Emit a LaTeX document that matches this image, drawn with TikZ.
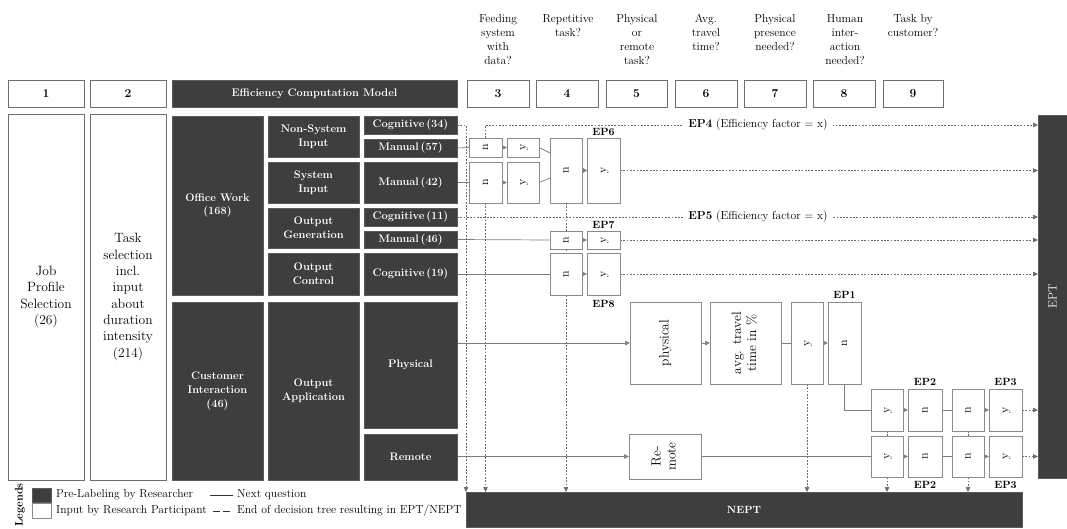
\documentclass[tikz,border=0pt]{standalone}
\usepackage{graphicx}
\usetikzlibrary{arrows.meta,calc}

\definecolor{dkc}{HTML}{3E3E3E}
\definecolor{bdc}{HTML}{8A8A8A}
\definecolor{hbc}{HTML}{6E6E6E}
\definecolor{lnc}{HTML}{7E7E7E}
\definecolor{dotc}{HTML}{6A6A6A}

\pgfdeclarelayer{bg}
\pgfsetlayers{bg,main}

% box from its corners: name, x1, y1, x2, y2, style, text
\newcommand\mkbox[7]{\node[#6, minimum width={(#4-#2)*1pt}, minimum height={(#5-#3)*1pt}] (#1) at ({(#2+#4)/2},{(#3+#5)/2}) {#7};}
% rotated (bottom-to-top) text, possibly on several lines
\newcommand\rot[1]{\rotatebox{90}{\begin{tabular}{@{}c@{}}#1\end{tabular}}}

\begin{document}
\begin{tikzpicture}[x=1pt,y=-1pt,
  dk/.style={draw=dkc!85!white, line width=0.4pt, fill=dkc, text=white, align=center,
    inner sep=0pt, outer sep=0pt, font=\bfseries\fontsize{11}{13.8}\selectfont},
  wb/.style={draw=bdc, line width=0.8pt, fill=white, align=center, inner sep=0pt, outer sep=0pt,
    font=\fontsize{12}{13}\selectfont},
  hd/.style={wb, draw=hbc, font=\bfseries\fontsize{12}{13}\selectfont},
  big/.style={wb, draw=hbc, font=\fontsize{13.5}{16.3}\selectfont},
  qt/.style={anchor=north, align=center, inner sep=0pt, font=\fontsize{11.6}{14}\selectfont},
  ep/.style={inner sep=0pt, font=\bfseries\fontsize{10.5}{12}\selectfont},
  lt/.style={anchor=west, inner sep=0pt, font=\fontsize{11.6}{13}\selectfont},
  sol/.style={draw=lnc, line width=0.7pt},
  dot/.style={draw=dotc, line width=0.6pt, dash pattern=on 1.8pt off 1.5pt},
  arr/.style={-{Triangle[length=5pt,width=4.5pt]}},
  barr/.style={-{Triangle[length=5pt,width=6pt]}}
]
\useasboundingbox (0,0) rectangle (1067,528);

% ---------- questions above the columns ----------
\node[qt] (q3) at (498,14) {Feeding\\system\\with\\data?};
\node[qt] (q4) at (568,14) {Repetitive\\task?};
\node[qt] (q5) at (637,14) {Physical\\or\\remote\\task?};
\node[qt] (q6) at (706,14) {Avg.\\travel\\time?};
\node[qt] (q7) at (775,14) {Physical\\presence\\needed?};
\node[qt] (q8) at (845,14) {Human\\inter-\\action\\needed?};
\node[qt] (q9) at (913,14) {Task by\\customer?};

% ---------- numbered header row ----------
\mkbox{h1}{8}{80}{84}{107}{hd}{1}
\mkbox{h2}{90}{80}{166}{107}{hd}{2}
\mkbox{ecm}{172}{80}{457}{107}{dk, font=\bfseries\fontsize{11}{13}\selectfont}{Efficiency Computation Model}
\mkbox{h3}{467}{80}{529}{107}{hd}{3}
\mkbox{h4}{536}{80}{598}{107}{hd}{4}
\mkbox{h5}{606}{80}{667}{107}{hd}{5}
\mkbox{h6}{675}{80}{737}{107}{hd}{6}
\mkbox{h7}{744}{80}{806}{107}{hd}{7}
\mkbox{h8}{813}{80}{875}{107}{hd}{8}
\mkbox{h9}{883}{80}{943}{107}{hd}{9}

% ---------- input columns ----------
\mkbox{job}{8}{114}{84}{480}{big}{Job\\Profile\\Selection\\(26)}
\mkbox{task}{90}{114}{166}{480}{big}{Task\\selection\\incl.\\input\\about\\duration\\intensity\\(214)}

% ---------- computation model ----------
\mkbox{A1}{172}{116}{263}{295}{dk}{Office Work\\(168)}
\mkbox{A2}{172}{302}{263}{480}{dk}{Customer\\Interaction\\(46)}
\mkbox{B1}{268}{116}{359}{157}{dk}{Non-System\\Input}
\mkbox{B2}{268}{162}{359}{203}{dk}{System\\Input}
\mkbox{B3}{268}{208}{359}{248}{dk}{Output\\Generation}
\mkbox{B4}{268}{253}{359}{295}{dk}{Output\\Control}
\mkbox{B5}{268}{302}{359}{480}{dk}{Output\\Application}
\mkbox{C1}{364}{116}{457}{134}{dk}{Cognitive\,(34)}
\mkbox{C2}{364}{139}{457}{157}{dk}{Manual\,(57)}
\mkbox{C3}{364}{162}{457}{203}{dk}{Manual\,(42)}
\mkbox{C4}{364}{208}{457}{226}{dk}{Cognitive\,(11)}
\mkbox{C5}{364}{231}{457}{248}{dk}{Manual\,(46)}
\mkbox{C6}{364}{253}{457}{295}{dk}{Cognitive\,(19)}
\mkbox{C7}{364}{302}{457}{428}{dk}{Physical}
\mkbox{C8}{364}{434}{457}{480}{dk}{Remote}

% ---------- results ----------
\mkbox{EPT}{1038}{115}{1067}{478}{dk, font=\fontsize{12}{13}\selectfont}{\rotatebox{90}{EPT}}
\mkbox{NEPT}{466}{492}{1022}{527}{dk, font=\bfseries\fontsize{10.5}{12}\selectfont}{NEPT}

% ---------- decision boxes ----------
\mkbox{f3a}{469}{138}{502}{157}{wb}{\rot{n}}
\mkbox{f3b}{507}{138}{539}{157}{wb}{\rot{y}}
\mkbox{f3c}{469}{162}{502}{203}{wb}{\rot{n}}
\mkbox{f3d}{507}{162}{539}{203}{wb}{\rot{y}}
\mkbox{f4n}{550}{138}{582}{203}{wb}{\rot{n}}
\mkbox{f4y}{587}{138}{620}{203}{wb}{\rot{y}}
\mkbox{f7n}{550}{231}{582}{249}{wb}{\rot{n}}
\mkbox{f7y}{587}{231}{620}{249}{wb}{\rot{y}}
\mkbox{f8n}{550}{253}{582}{295}{wb}{\rot{n}}
\mkbox{f8y}{587}{253}{620}{295}{wb}{\rot{y}}
\mkbox{phys}{630}{302}{701}{384}{wb, font=\fontsize{13.5}{15}\selectfont}{\rot{physical}}
\mkbox{avg}{710}{302}{781}{384}{wb, font=\fontsize{13.5}{15}\selectfont}{\rot{avg. travel\\time in \%}}
\mkbox{p7y}{791}{302}{823}{384}{wb}{\rot{y}}
\mkbox{p1n}{828}{302}{861}{384}{wb}{\rot{n}}
\mkbox{r1y}{871}{389}{903}{431}{wb}{\rot{y}}
\mkbox{r1n}{908}{389}{942}{431}{wb}{\rot{n}}
\mkbox{r1m}{952}{389}{984}{431}{wb}{\rot{n}}
\mkbox{r1z}{989}{389}{1022}{431}{wb}{\rot{y}}
\mkbox{rem}{629}{434}{701}{479}{wb, font=\fontsize{13.5}{15}\selectfont}{\rot{Re-\\mote}}
\mkbox{r2y}{871}{436}{903}{477}{wb}{\rot{y}}
\mkbox{r2n}{908}{436}{942}{477}{wb}{\rot{n}}
\mkbox{r2m}{952}{436}{984}{477}{wb}{\rot{n}}
\mkbox{r2z}{989}{436}{1022}{477}{wb}{\rot{y}}

% ---------- end point labels ----------
\node[ep] (ep6) at (603.5,132) {EP6};
\node[ep] (ep7) at (603.5,225) {EP7};
\node[ep] (ep8) at (603.5,304) {EP8};
\node[ep] (ep1) at (844.5,295) {EP1};
\node[ep] (ep2a) at (925,382) {EP2};
\node[ep] (ep3a) at (1005.5,382) {EP3};
\node[ep] (ep2b) at (925,485) {EP2};
\node[ep] (ep3b) at (1005.5,485) {EP3};

% ---------- connectors ----------
\begin{pgfonlayer}{bg}
  % next question
  \draw[sol] (C2.east) -- (f3a.west);
  \draw[sol,arr] (f3a) -- (f3b);
  \draw[sol] (C3.east) -- (f3c.west);
  \draw[sol,arr] (f3c) -- (f3d);
  \draw[sol] (f3b.east) -- ($(f4n.north west)+(0,15)$);
  \draw[sol] (f3d.east) -- ($(f4n.south west)+(0,-25)$);
  \draw[sol,barr] (f4n) -- (f4y);
  \draw[sol] (C5.east) -- (f7n.west);
  \draw[sol,arr] (f7n) -- (f7y);
  \draw[sol] (C6.east) -- (f8n.west);
  \draw[sol,arr] (f8n) -- (f8y);
  \draw[sol,arr] (C7.east |- phys.west) -- (phys.west);
  \draw[sol,arr] (phys) -- (avg);
  \draw[sol] (avg) -- (p7y);
  \draw[sol,arr] (p7y) -- (p1n);
  \draw[sol] (p1n.south) |- (r1y.west);
  \draw[sol,arr] (r1y) -- (r1n);
  \draw[sol] (r1n) -- (r1m);
  \draw[sol,arr] (r1m) -- (r1z);
  \draw[sol,arr] (C8.east |- rem.west) -- (rem.west);
  \draw[sol] (rem.east) -- (rem.east -| r2y.west);
  \draw[sol,arr] (r2y) -- (r2n);
  \draw[sol] (r2n) -- (r2m);
  \draw[sol,arr] (r2m) -- (r2z);
  % end of decision tree
  \draw[dot,arr] (C1.east) -| (NEPT.north west);
  \draw[dot,arr] (f3a.north) |- (EPT.west |- C1.east);
  \draw[dot,arr] (f3c.south) -- (f3c.south |- NEPT.north);
  \draw[dot,arr] (f4n.south) -- (f4n.south |- NEPT.north);
  \draw[dot,arr] (f4y.east) -- (f4y.east -| EPT.west);
  \draw[dot,arr] (C4.east) -- (C4.east -| EPT.west);
  \draw[dot,arr] (f7y.east) -- (f7y.east -| EPT.west);
  \draw[dot,arr] (f8y.east) -- (f8y.east -| EPT.west);
  \draw[dot,arr] (p7y.south) -- (p7y.south |- NEPT.north);
  \draw[dot,arr] (r1y.south) -- (r1y.south |- NEPT.north);
  \draw[dot,arr] (r1m.south) -- (r1m.south |- NEPT.north);
  \draw[dot,arr] (r1z.east) -- (r1z.east -| EPT.west);
  \draw[dot,arr] (r2z.east) -- (r2z.east -| EPT.west);
\end{pgfonlayer}

% efficiency factor labels on the dotted lines
\node[fill=white, inner xsep=5pt, inner ysep=1pt, font=\fontsize{11.6}{13}\selectfont] (ep4) at (758,125) {\textbf{EP4} (Efficiency factor = x)};
\node[fill=white, inner xsep=5pt, inner ysep=1pt, font=\fontsize{11.6}{13}\selectfont] (ep5) at (758,217) {\textbf{EP5} (Efficiency factor = x)};

% ---------- legend ----------
\node[rotate=90, inner sep=0pt, font=\bfseries\fontsize{11}{12}\selectfont] (lgh) at (20,505) {Legends};
\mkbox{lg1}{32}{488}{51}{502}{dk}{}
\node[lt] (lg1t) at (56,495) {Pre-Labeling by Researcher};
\coordinate (ls1) at (210,495);
\coordinate (ls2) at (233,495);
\draw[line width=0.8pt, draw=black!80] (ls1) -- (ls2);
\node[lt] (lg1n) at (237,495) {Next question};
\mkbox{lg2}{32}{503}{51}{518}{wb}{}
\node[lt] (lg2t) at (56,511) {Input by Research Participant};
\coordinate (ld1) at (213,511);
\coordinate (ld2) at (232,511);
\draw[line width=0.8pt, draw=black!80, dash pattern=on 7pt off 3pt] (ld1) -- (ld2);
\node[lt] (lg2n) at (237,511) {End of decision tree resulting in EPT/NEPT};
\end{tikzpicture}
\end{document}
